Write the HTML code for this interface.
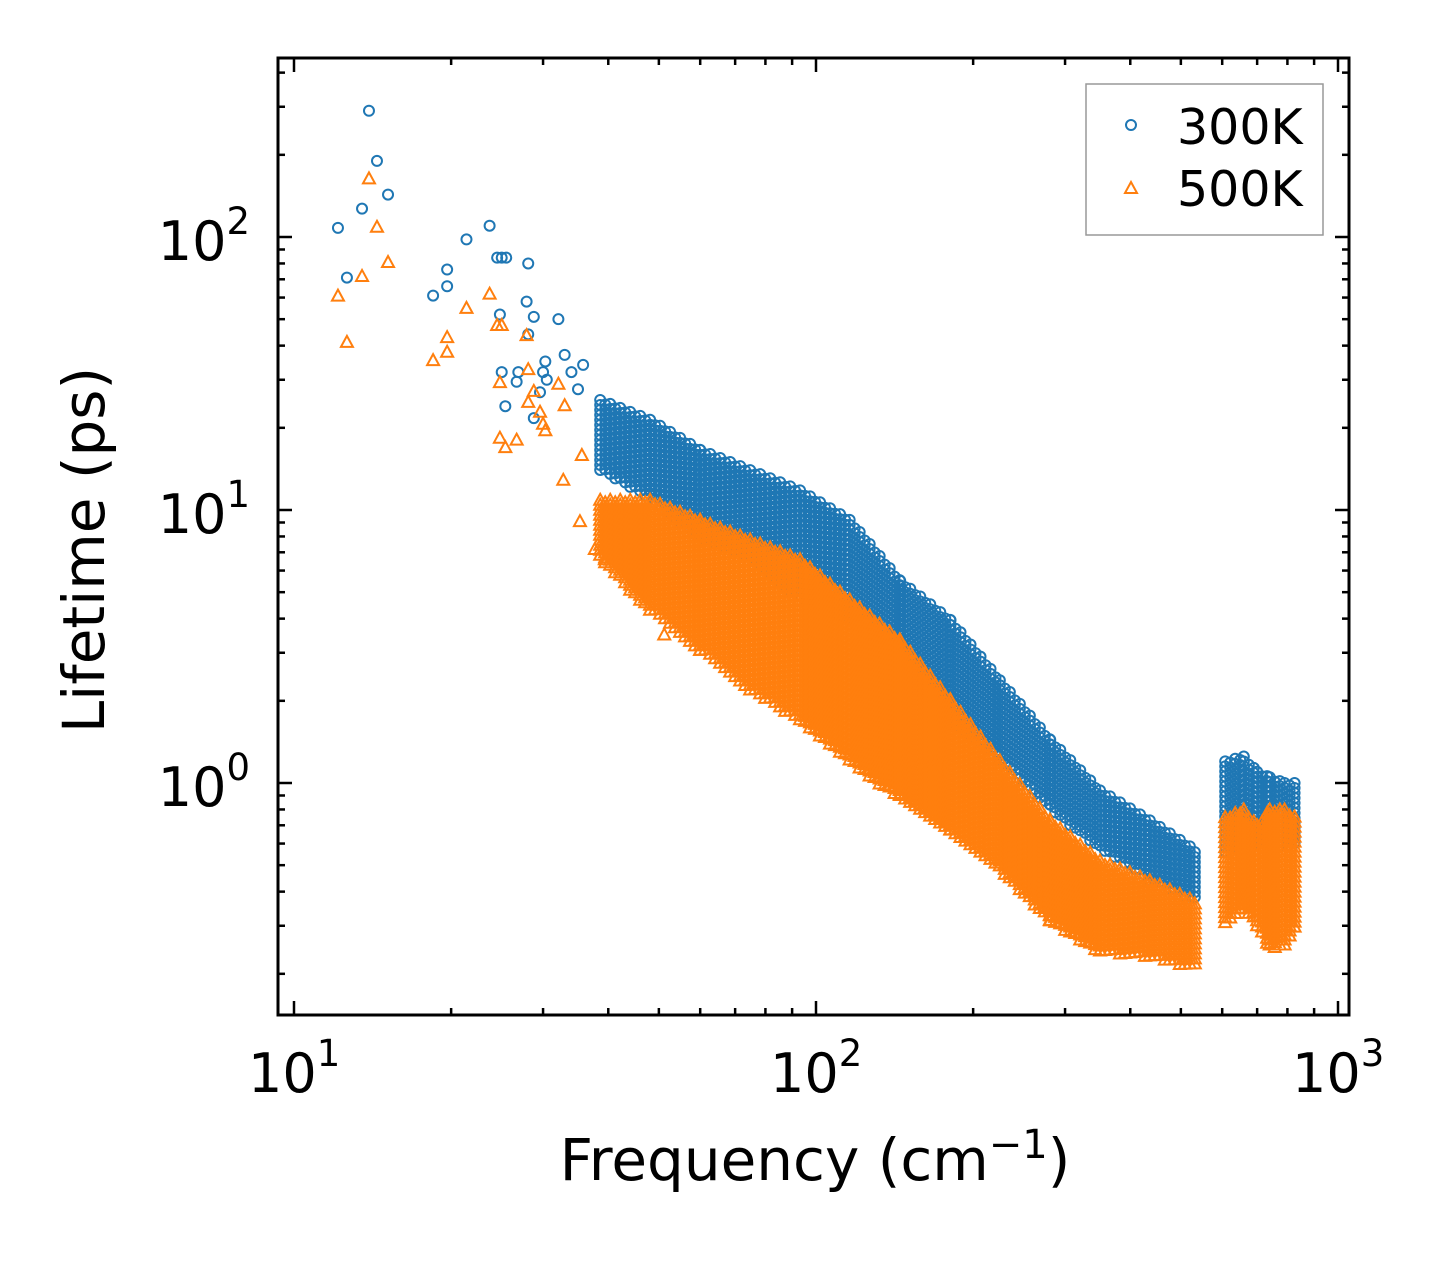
<!DOCTYPE html>
<html><head><meta charset="utf-8">
<style>
html,body{margin:0;padding:0;background:#fff;}
svg{display:block;font-family:"DejaVu Sans","Liberation Sans",sans-serif;}
</style></head>
<body>
<svg id="chart" width="1446" height="1265" viewBox="0 0 1446 1265" xmlns="http://www.w3.org/2000/svg">
<rect x="0" y="0" width="1446" height="1265" fill="#fff"/>
<defs><clipPath id="pclip"><rect x="278" y="58" width="1071" height="957"/></clipPath></defs>
<g id="marks" clip-path="url(#pclip)"></g>
<g id="axes"></g>
<text transform="translate(104,550) rotate(-90)" text-anchor="middle" font-size="58">Lifetime (ps)</text>
<text x="815" y="1180" text-anchor="middle" font-size="58">Frequency (cm<tspan font-size="40" dy="-22">−1</tspan><tspan dy="22">)</tspan></text>
<g>
<rect x="1086" y="84" width="237" height="151" fill="#fff" stroke="#999" stroke-width="1.5"/>
<circle cx="1131" cy="125" r="5" fill="none" stroke="#1f77b4" stroke-width="2"/>
<text x="1177" y="144" font-size="49">300K</text>
<polygon points="1131,182 1137,193 1125,193" fill="none" stroke="#ff7f0e" stroke-width="2"/>
<text x="1177" y="206" font-size="49">500K</text>
</g>
</svg>
<script>
// isolated 300K points
const blueF = [12.14,12.63,13.5,13.92,14.42,15.14,18.47,19.65,19.65,21.4,23.7,24.5,25.0,25.5,28.1,24.8,25.0,27.9,28.1,28.8,25.4,26.7,26.9,28.8,29.6,30.0,30.3,32.1,33.0,34.0,35.0,35.8,30.5];
const blueT = [108,71,127,290,190,143,61,76,66,98,110,84,84,84,80,52,32,58,44,51,24,29.5,32,21.7,27,32,35,50,37,32,27.7,34,30];
// isolated 500K points
const orangeF = [12.14,12.63,13.5,13.92,14.42,15.14,18.47,19.65,19.65,21.4,23.7,24.5,25.0,24.8,24.8,25.4,26.7,27.9,28.1,28.1,28.8,29.6,30.0,30.3,32.1,33.0,32.8,35.3,35.6,37.7,39.4,51.2];
const orangeT = [61,41.3,72,164,109,81,35.4,43,38,55,62,47.6,47.6,18.4,29.4,17.0,18.1,43.7,32.8,24.9,27.3,22.9,20.7,19.6,29,24.2,12.9,9.1,15.9,7.2,6.6,3.5];
// dense band envelopes (main branch)
const bandF = [38.6,48.1,60.0,74.8,93.2,116,145,181,225,281,350,436,532];
const blueHigh = [25.3,21.4,16.6,14.0,11.8,9.2,5.5,3.95,2.38,1.44,0.94,0.73,0.57];
const blueLow = [14.0,10.9,7.8,6.6,4.7,3.95,2.38,1.70,1.21,0.80,0.57,0.44,0.37];
const orangeHigh = [10.9,10.9,9.2,7.8,6.6,4.7,3.34,2.02,1.21,0.73,0.52,0.44,0.37];
const orangeLow = [6.6,4.3,3.07,2.19,1.70,1.21,0.87,0.67,0.48,0.31,0.24,0.23,0.21];
// high-frequency branch
const band2F = [608,660,700,740,790,828];
const blue2High = [1.2,1.25,1.1,1.05,1.0,1.0];
const blue2Low = [0.55,0.6,0.6,0.55,0.6,0.6];
const orange2High = [0.75,0.8,0.7,0.8,0.8,0.75];
const orange2Low = [0.3,0.35,0.3,0.25,0.25,0.3];
const xTickVals = [10,100,1000];
const xTickExp = ['1','2','3'];
const yTickVals = [1,10,100];
const yTickExp = ['0','1','2'];

const NS='http://www.w3.org/2000/svg';
function X(f){return 294+522*(Math.log10(f)-1);}
function Y(t){return 237-273*(Math.log10(t)-2);}
const marks=document.getElementById('marks');
const axes=document.getElementById('axes');
function mk(tag,attrs,parent){const e=document.createElementNS(NS,tag);for(const k in attrs)e.setAttribute(k,attrs[k]);parent.appendChild(e);return e;}
function circ(f,t){
  const c=mk('circle',{cx:X(f),cy:Y(t),r:5,fill:'none',stroke:'#1f77b4','stroke-width':2},marks);
  
  
}
function tri(f,t){
  const x=X(f),y=Y(t);
  const p=mk('polygon',{points:`${x},${y-6} ${x+6},${y+5} ${x-6},${y+5}`,fill:'none',stroke:'#ff7f0e','stroke-width':2},marks);
  
  
}
function fillBand(F,H,L,fn){
  for(let i=0;i<F.length-1;i++){
    const x0=X(F[i]),x1=X(F[i+1]);
    let k=0;
    for(let x=x0;x<x1;x+=5,k++){
      const u=(x-x0)/(x1-x0);
      const yTop=Y(H[i])+(Y(H[i+1])-Y(H[i]))*u;
      const yBot=Y(L[i])+(Y(L[i+1])-Y(L[i]))*u;
      for(let y=yTop+(k%2)*2.5;y<=yBot;y+=5){
        const f=Math.pow(10,1+(x-294)/522), t=Math.pow(10,2-(y-237)/273);
        fn(f,t);
      }
    }
  }
}
blueF.forEach((f,i)=>circ(f,blueT[i]));
fillBand(bandF,blueHigh,blueLow,circ);
fillBand(band2F,blue2High,blue2Low,circ);
orangeF.forEach((f,i)=>tri(f,orangeT[i]));
fillBand(bandF,orangeHigh,orangeLow,tri);
fillBand(band2F,orange2High,orange2Low,tri);

const fr=mk('rect',{x:278,y:58,width:1071,height:957,fill:'none',stroke:'#000','stroke-width':3},axes);


for(let d=1;d<=3;d++){
  for(let m=1;m<10;m++){
    const v=m*Math.pow(10,d); if(v>1100) break;
    const x=X(v); if(x<278||x>1349) continue;
    const len=m===1?14:7;
    const a=mk('line',{x1:x,y1:1015,x2:x,y2:1015-len,stroke:'#000','stroke-width':2.5},axes);
    
    
    const b=mk('line',{x1:x,y1:58,x2:x,y2:58+len,stroke:'#000','stroke-width':2.5},axes);
    
    
  }
}
xTickVals.forEach((v,i)=>{
  const t=mk('text',{x:X(v)-46,y:1092,'font-size':54},axes);
  
  
  t.innerHTML='10<tspan font-size="37" dy="-26">'+xTickExp[i]+'</tspan>';
});
for(let d=-1;d<=2;d++){
  for(let m=1;m<10;m++){
    const v=m*Math.pow(10,d);
    const y=Y(v); if(y<58||y>1015) continue;
    const len=m===1?14:7;
    const a=mk('line',{x1:278,y1:y,x2:278+len,y2:y,stroke:'#000','stroke-width':2.5},axes);
    
    
    const b=mk('line',{x1:1349,y1:y,x2:1349-len,y2:y,stroke:'#000','stroke-width':2.5},axes);
    
    
  }
}
yTickVals.forEach((v,i)=>{
  const t=mk('text',{x:250,y:Y(v)+23,'text-anchor':'end','font-size':54},axes);
  
  
  t.innerHTML='10<tspan font-size="37" dy="-26">'+yTickExp[i]+'</tspan>';
});
</script>
</body></html>
